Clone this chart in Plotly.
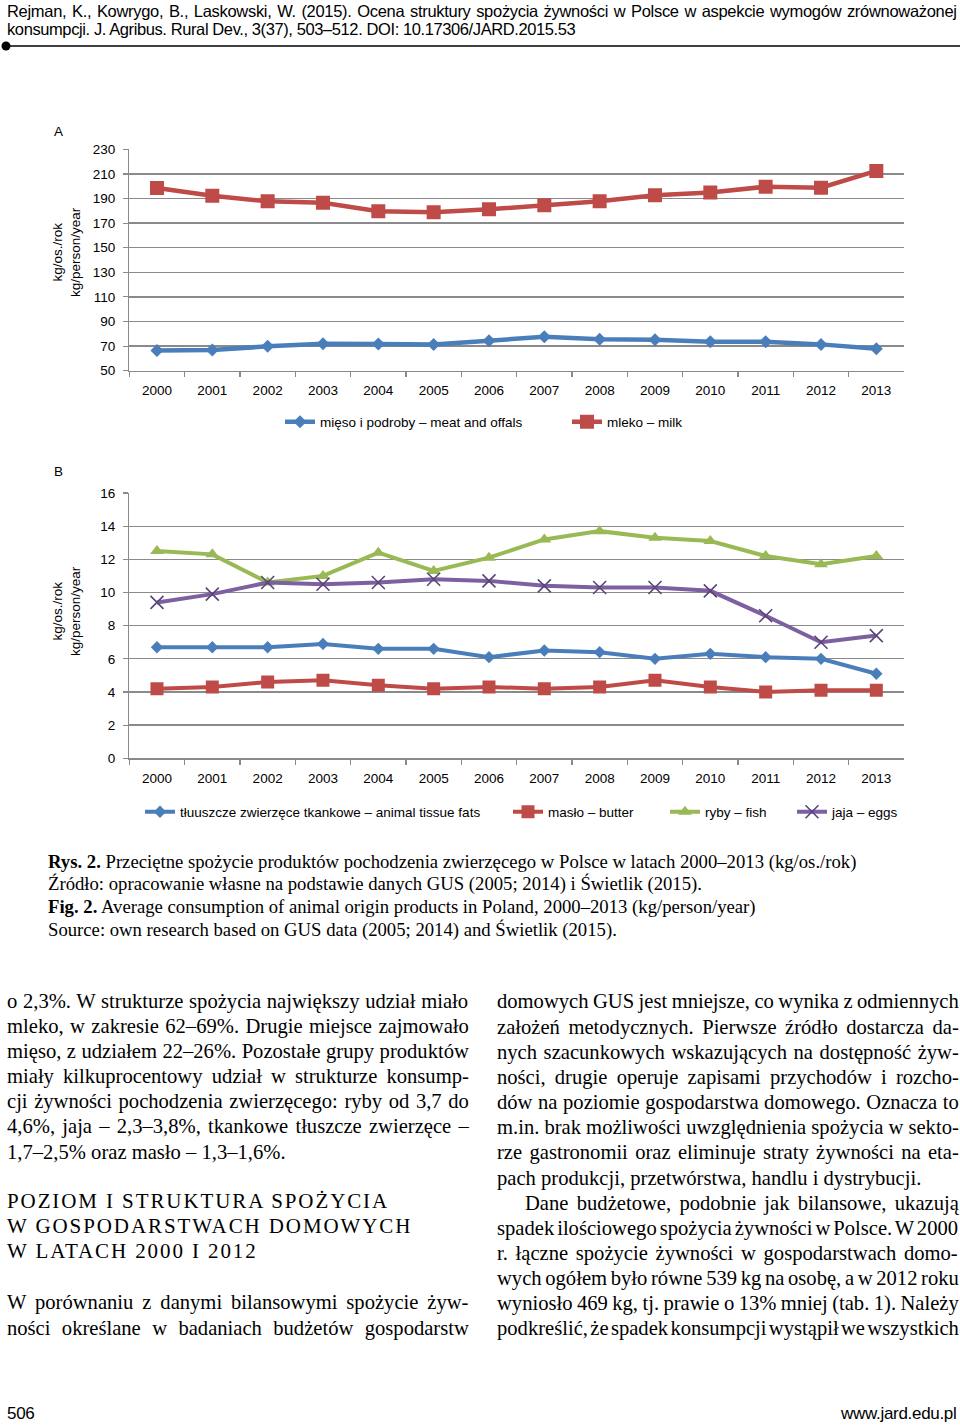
import plotly.graph_objects as go

# ---------------- data ----------------
years = [str(y) for y in range(2000, 2014)]
meat = [66.5, 66.8, 69.8, 72.0, 71.7, 71.4, 74.4, 77.6, 75.5, 75.2, 73.6, 73.6, 71.4, 67.9]
milk = [198.6, 192.3, 187.7, 186.6, 179.6, 178.8, 181.2, 184.5, 187.7, 192.6, 194.8, 199.6, 198.8, 212.4]
fats = [6.7, 6.7, 6.7, 6.9, 6.6, 6.6, 6.1, 6.5, 6.4, 6.0, 6.3, 6.1, 6.0, 5.1]
butter = [4.2, 4.3, 4.6, 4.7, 4.4, 4.2, 4.3, 4.2, 4.3, 4.7, 4.3, 4.0, 4.1, 4.1]
fish = [12.5, 12.3, 10.6, 11.0, 12.4, 11.3, 12.1, 13.2, 13.7, 13.3, 13.1, 12.2, 11.7, 12.2]
eggs = [9.4, 9.9, 10.6, 10.5, 10.6, 10.8, 10.7, 10.4, 10.3, 10.3, 10.1, 8.6, 7.0, 7.4]

names_a = ["mięso i podroby – meat and offals", "mleko – milk"]
names_b = ["tłuuszcze zwierzęce tkankowe – animal tissue fats", "masło – butter", "ryby – fish", "jaja – eggs"]
y_title = "kg/os./rok<br>kg/person/year"

header = ["Rejman, K., Kowrygo, B., Laskowski, W. (2015). Ocena struktury spożycia żywności w Polsce w aspekcie wymogów zrównoważonej",
          "konsumpcji. J. Agribus. Rural Dev., 3(37), 503–512. DOI: 10.17306/JARD.2015.53"]
caption = ["<b>Rys. 2.</b> Przeciętne spożycie produktów pochodzenia zwierzęcego w Polsce w latach 2000–2013 (kg/os./rok)",
           "Źródło: opracowanie własne na podstawie danych GUS (2005; 2014) i Świetlik (2015).",
           "<b>Fig. 2.</b> Average consumption of animal origin products in Poland, 2000–2013 (kg/person/year)",
           "Source: own research based on GUS data (2005; 2014) and Świetlik (2015)."]
left_col = [("o 2,3%. W strukturze spożycia największy udział miało", True),
            ("mleko, w zakresie 62–69%. Drugie miejsce zajmowało", True),
            ("mięso, z udziałem 22–26%. Pozostałe grupy produktów", True),
            ("miały kilkuprocentowy udział w strukturze konsump-", True),
            ("cji żywności pochodzenia zwierzęcego: ryby od 3,7 do", True),
            ("4,6%, jaja – 2,3–3,8%, tkankowe tłuszcze zwierzęce –", True),
            ("1,7–2,5% oraz masło – 1,3–1,6%.", False)]
heading = ["POZIOM I STRUKTURA SPOŻYCIA", "W GOSPODARSTWACH DOMOWYCH", "W LATACH 2000 I 2012"]
left_col2 = [("W porównaniu z danymi bilansowymi spożycie żyw-", True),
             ("ności określane w badaniach budżetów gospodarstw", True)]
right_col = [("domowych GUS jest mniejsze, co wynika z odmiennych", True, 0),
             ("założeń metodycznych. Pierwsze źródło dostarcza da-", True, 0),
             ("nych szacunkowych wskazujących na dostępność żyw-", True, 0),
             ("ności, drugie operuje zapisami przychodów i rozcho-", True, 0),
             ("dów na poziomie gospodarstwa domowego. Oznacza to", True, 0),
             ("m.in. brak możliwości uwzględnienia spożycia w sekto-", True, 0),
             ("rze gastronomii oraz eliminuje straty żywności na eta-", True, 0),
             ("pach produkcji, przetwórstwa, handlu i dystrybucji.", False, 0),
             ("Dane budżetowe, podobnie jak bilansowe, ukazują", True, 28),
             ("spadek ilościowego spożycia żywności w Polsce. W 2000", True, 0),
             ("r. łączne spożycie żywności w gospodarstwach domo-", True, 0),
             ("wych ogółem było równe 539 kg na osobę, a w 2012 roku", True, 0),
             ("wyniosło 469 kg, tj. prawie o 13% mniej (tab. 1). Należy", True, 0),
             ("podkreślić, że spadek konsumpcji wystąpił we wszystkich", True, 0)]
footer = ["506", "www.jard.edu.pl"]

# ---------------- styling ----------------
W, H = 960, 1427
def px(x): return x / W
def py(y): return 1 - y / H

BLUE, RED, GREEN, PURPLE = "#4A7EBB", "#BE4B48", "#98B954", "#7D60A0"
GRID = "#8a8a8a"
SANS = "Liberation Sans, Arial, sans-serif"
SERIF = "Liberation Serif, Times New Roman, serif"
FS = 13.5

fig = go.Figure()

def line_trace(x, y, name, color, sym, size, xa, ya, leg, width=4.5, mline=None):
    mk = dict(symbol=sym, size=size, color=color, line=dict(width=0))
    if mline:
        mk["line"] = mline
    fig.add_trace(go.Scatter(x=x, y=y, name=name, mode="lines+markers",
                             line=dict(color=color, width=width), marker=mk,
                             xaxis=xa, yaxis=ya, legend=leg))

line_trace(years, meat, names_a[0], BLUE, "diamond", 10, "x", "y", "legend")
line_trace(years, milk, names_a[1], RED, "square", 14, "x", "y", "legend2")
line_trace(years, fats, names_b[0], BLUE, "diamond", 9.5, "x2", "y2", "legend3", 4)
line_trace(years, butter, names_b[1], RED, "square", 13, "x2", "y2", "legend4", 4)
line_trace(years, fish, names_b[2], GREEN, "triangle-up", 12, "x2", "y2", "legend5", 4)
line_trace(years, eggs, names_b[3], PURPLE, "x-thin", 13, "x2", "y2", "legend6", 4,
           mline=dict(width=1.6, color="#5a4478"))

tickfont = dict(family=SANS, size=FS, color="#000")
def xaxis(anchor):
    return dict(type="category", range=[-0.5, 13.5], tickson="boundaries", ticks="outside",
                ticklen=5, tickwidth=1.2, tickcolor=GRID, showline=True, linecolor=GRID,
                linewidth=1.3, showgrid=False, tickfont=tickfont, anchor=anchor,
                domain=[px(129.3), px(904)], fixedrange=True, ticklabelstandoff=7,
                automargin=False)
def yaxis(anchor, dom, rng, dt):
    return dict(range=rng, dtick=dt, tick0=rng[0], showgrid=True, gridcolor=GRID, gridwidth=1.3,
                showline=True, linecolor=GRID, linewidth=1.3, ticks="outside", ticklen=5,
                tickwidth=1.2, tickcolor=GRID, zeroline=False, tickfont=tickfont,
                anchor=anchor, domain=dom, fixedrange=True, ticklabelstandoff=5,
                automargin=False)

def leg(xpx, ypx):
    return dict(x=px(xpx), y=py(ypx), xanchor="left", yanchor="middle", orientation="h",
                font=dict(family=SANS, size=FS, color="#000"), bgcolor="rgba(0,0,0,0)",
                borderwidth=0, itemclick=False, itemdoubleclick=False)

fig.update_layout(
    width=W, height=H, margin=dict(l=0, r=0, t=0, b=0, pad=0, autoexpand=False), autosize=False,
    paper_bgcolor="white", plot_bgcolor="white", showlegend=True, hovermode=False,
    xaxis=xaxis("y"), yaxis=yaxis("x", [py(370.7), py(149.3)], [50, 230], 20),
    xaxis2=xaxis("y2"), yaxis2=yaxis("x2", [py(758.3), py(493)], [0, 16], 2),
    legend=leg(280, 422), legend2=leg(567, 422),
    legend3=leg(140, 812), legend4=leg(508, 812), legend5=leg(665, 812), legend6=leg(792, 812),
)

# ---------------- text ----------------
TW = {' ': 250, '!': 333, '%': 833, '(': 333, ')': 333, ',': 250, '-': 333, '.': 250, '/': 278,
      ':': 278, ';': 278, '–': 500,
      'A': 722, 'B': 667, 'C': 667, 'D': 722, 'E': 611, 'F': 556, 'G': 722, 'H': 722, 'I': 333,
      'J': 389, 'K': 722, 'L': 611, 'M': 889, 'N': 722, 'O': 722, 'P': 556, 'Q': 722, 'R': 667,
      'S': 556, 'T': 611, 'U': 722, 'V': 722, 'W': 944, 'X': 722, 'Y': 722, 'Z': 611,
      'a': 444, 'b': 500, 'c': 444, 'd': 500, 'e': 444, 'f': 333, 'g': 500, 'h': 500, 'i': 278,
      'j': 278, 'k': 500, 'l': 278, 'm': 778, 'n': 500, 'o': 500, 'p': 500, 'q': 500, 'r': 333,
      's': 389, 't': 278, 'u': 500, 'v': 500, 'w': 722, 'x': 500, 'y': 500, 'z': 444,
      'ą': 444, 'ę': 444, 'ó': 500, 'ś': 389, 'ł': 278, 'ż': 444, 'ź': 444, 'ć': 444, 'ń': 500,
      'Ś': 556, 'Ż': 611, 'Ź': 611, 'Ł': 611}

def nat_width(s, size):
    return sum(TW.get(c, 500) for c in s) * size / 1000.0

def text(t, x, yc, size, family, anchor="left", angle=0, color="#000"):
    fig.add_annotation(x=px(x), y=py(yc), xref="paper", yref="paper", text=t,
                       showarrow=False, xanchor=anchor, yanchor="middle", textangle=angle,
                       font=dict(family=family, size=size, color=color),
                       align="center" if angle else "left", borderpad=0)

BODY = 20.6
def body_line(s, x0, x1, baseline, justify):
    if justify and s.count(" ") > 0:
        extra = (x1 - x0 - nat_width(s, BODY)) / s.count(" ")
        t = '<span style="word-spacing:%.2fpx">%s</span>' % (extra, s)
    else:
        t = s
    text(t, x0, baseline - 0.34 * BODY, BODY, SERIF)

def spaced(s, ls, ws=0):
    return '<span style="letter-spacing:%.2fpx;word-spacing:%.2fpx">%s</span>' % (ls, ws, s)

# header
text(spaced(header[0], -0.3, 1.35), 6, 11, 16.5, SANS)
text(spaced(header[1], -0.4), 6, 29, 16.5, SANS)
fig.add_shape(type="line", xref="paper", yref="paper", x0=px(5), x1=px(960), y0=py(46), y1=py(46),
              line=dict(color="#000", width=1.5))
fig.add_shape(type="circle", xref="paper", yref="paper", x0=px(1.5), x1=px(10.5), y0=py(41.5), y1=py(50.5),
              fillcolor="#000", line=dict(width=0))

# chart labels
text("A", 53, 131, FS, SANS)
text("B", 53, 471, FS, SANS)
text(y_title, 66, 252, FS, SANS, anchor="center", angle=-90)
text(y_title, 66, 611, FS, SANS, anchor="center", angle=-90)

# caption
for i, c in enumerate(caption):
    text(c, 47, 868 + 22.7 * i - 0.34 * 18.7, 18.7, SERIF)

# left column
for i, (s, j) in enumerate(left_col):
    body_line(s, 6, 468, 1009 + 25.0 * i, j)
for i, s in enumerate(heading):
    text(spaced(s, 1.9), 6, 1207.7 + 25.2 * i - 0.34 * 21, 21, SERIF)
for i, (s, j) in enumerate(left_col2):
    body_line(s, 6, 468, 1310 + 25.5 * i, j)
# right column
for i, (s, j, ind) in enumerate(right_col):
    body_line(s, 496 + ind, 958, 1009 + 25.15 * i, j)

# footer
text(spaced(footer[0], -0.3), 6, 1413, 17, SANS)
text(spaced(footer[1], -0.3), 958, 1413, 17, SANS, anchor="right")

fig.write_html("out.html", config={"displayModeBar": False, "staticPlot": True},
               post_script="document.documentElement.style.margin='0';document.body.style.margin='0';document.body.style.padding='0';document.body.style.overflow='hidden';")
